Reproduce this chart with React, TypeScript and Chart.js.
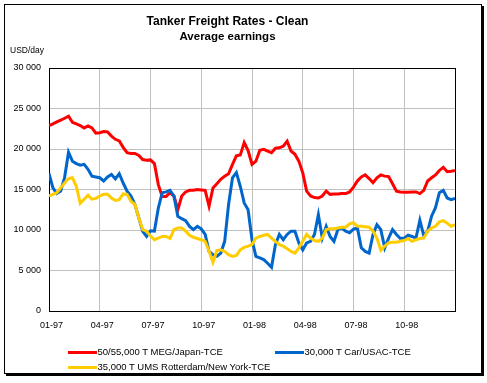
import React, { useEffect, useRef } from 'react';
import { Chart, registerables } from 'chart.js';

Chart.register(...registerables);

const FONT = 'Arial, "Liberation Sans", Helvetica, sans-serif';

const titleText = 'Tanker Freight Rates - Clean';
const subtitleText = 'Average earnings';
const unitLabel = 'USD/day';

const seriesNames = [
  '50/55,000 T MEG/Japan-TCE',
  '30,000 T Car/USAC-TCE',
  '35,000 T UMS Rotterdam/New York-TCE',
];
const seriesColors = ['#FF0000', '#0066CC', '#FFCC00'];

// x tick labels, one every 13 weeks
const xTickLabels = ['01-97', '04-97', '07-97', '10-97', '01-98', '04-98', '07-98', '10-98', ''];
const yTickLabels = ['0', '5 000', '10 000', '15 000', '20 000', '25 000', '30 000'];

// weekly values, week 0 = first week of Jan 1997
const megJapan = [
  22900, 23100, 23350, 23550, 23800, 24050, 23300, 23100, 22900, 22600,
  22850, 22600, 21950, 22000, 22150, 22100, 21600, 21200, 21000, 20200,
  19550, 19450, 19450, 19200, 18700, 18600, 18650, 18200, 15600, 14150,
  14150, 14600, 14200, 12500, 14200, 14700, 14900, 14900, 15000, 14950,
  14900, 12950, 15200, 15700, 16250, 16650, 16950, 18100, 19150, 19250,
  20800, 19800, 18100, 18500, 19850, 19950, 19750, 19550, 20100, 20150,
  20350, 20950, 19750, 19350, 18500, 17050, 14800, 14200, 14000, 13950,
  14200, 14800, 14400, 14450, 14450, 14500, 14500, 14700, 15300, 16050,
  16550, 16800, 16350, 15850, 16450, 16800, 16650, 16600, 15700, 14800,
  14700, 14650, 14650, 14700, 14700, 14500, 14900, 16050, 16450, 16800,
  17350, 17750, 17200, 17250, 17350,
];

const carUsac = [
  17000, 15200, 14500, 14800, 16500, 19600, 18500, 18200, 18000, 18100,
  17500, 16650, 16550, 16450, 16050, 16550, 16850, 16300, 16950, 15800,
  14800, 14200, 13150, 11500, 9850, 9200, 9900, 9850, 12700, 14600,
  14700, 14900, 14200, 11700, 11400, 11150, 10450, 10050, 10450, 10150,
  9450, 7350, 6950, 6750, 7150, 8600, 13150, 16450, 17100, 15400,
  13350, 12500, 8800, 6750, 6550, 6350, 5900, 5400, 8200, 9450,
  8800, 9450, 9850, 9850, 8400, 7550, 8400, 8600, 9450, 11900,
  9000, 10450, 9200, 8600, 10050, 10250, 9850, 9650, 10100, 10250,
  7800, 7350, 7150, 9450, 10650, 10050, 7800, 9000, 10050, 9450,
  8950, 9000, 9350, 9200, 9000, 11200, 9300, 9850, 11700, 12750,
  14600, 14900, 13950, 13750, 13900,
];

const rotterdamNy = [
  14200, 14400, 14600, 15200, 15800, 16350, 16450, 15400, 13300, 13800,
  14300, 13800, 13900, 14200, 14400, 14400, 13950, 13650, 13750, 14450,
  14400, 13550, 13150, 11500, 10050, 9850, 9250, 8800, 9000, 9200,
  9200, 8950, 10050, 10250, 10250, 9850, 9350, 9100, 8950, 8800,
  8600, 7400, 6000, 7450, 7550, 7350, 6950, 6750, 6850, 7550,
  7850, 8000, 8200, 9000, 9200, 9350, 9450, 9000, 8600, 8200,
  8000, 7700, 7350, 7150, 7800, 8600, 9450, 9000, 8700, 8600,
  9000, 10050, 10150, 10150, 10250, 10350, 10350, 10750, 10900, 10450,
  10450, 10400, 10350, 9850, 9000, 7500, 8000, 8400, 8500, 8500,
  8600, 8700, 8950, 8600, 8800, 8950, 9000, 9850, 10250, 10450,
  11000, 11150, 10850, 10450, 10650,
];

const seriesValues = [megJapan, carUsac, rotterdamNy];

export default function App() {
  const ref = useRef<HTMLCanvasElement>(null);

  useEffect(() => {
    if (!ref.current) return;
    const datasets = seriesValues.map((vals, si) => ({
      label: seriesNames[si],
      data: vals.map((v, i) => ({ x: i, y: v })),
      borderColor: seriesColors[si],
      backgroundColor: seriesColors[si],
      borderWidth: 3,
      pointRadius: 0,
      tension: 0,
      fill: false,
      order: 3 - si,
    }));
    const chart = new Chart(ref.current, {
      type: 'line',
      data: { datasets },
      options: {
        responsive: false,
        animation: false,
        devicePixelRatio: 1,
        layout: { padding: { left: 0, right: 32, top: 0, bottom: 42 } },
        plugins: {
          legend: { display: false },
          tooltip: { enabled: false },
          title: {
            display: true,
            text: titleText,
            color: '#000',
            font: { family: FONT, size: 12, weight: 'bold', lineHeight: 1.2 },
            padding: { top: 14, bottom: 0 },
          },
          subtitle: {
            display: true,
            text: subtitleText,
            color: '#000',
            font: { family: FONT, size: 11.5, weight: 'bold', lineHeight: 1.2 },
            padding: { top: 2, bottom: 23.8 },
          },
        },
        scales: {
          x: {
            type: 'linear',
            min: 0,
            max: 104,
            afterFit: (s: any) => {
              s.height = 30;
            },
            ticks: {
              stepSize: 13,
              autoSkip: false,
              maxRotation: 0,
              padding: 9,
              labelOffset: 2.5,
              color: '#000',
              font: { family: FONT, size: 9 },
              callback: (v: any) => xTickLabels[Math.round(Number(v) / 13)] ?? '',
            },
            grid: {
              drawTicks: false,
              lineWidth: 1,
              color: (ctx: any) => (ctx.tick && ctx.tick.value === 104 ? '#000' : '#C0C0C0'),
            },
            border: { display: true, color: '#000', width: 1 },
          },
          y: {
            min: 0,
            max: 30000,
            afterFit: (s: any) => {
              s.width = 49;
            },
            ticks: {
              stepSize: 5000,
              padding: 8,
              color: '#000',
              font: { family: FONT, size: 9 },
              callback: (v: any) => yTickLabels[Math.round(Number(v) / 5000)] ?? '',
            },
            grid: {
              drawTicks: false,
              lineWidth: 1,
              color: (ctx: any) => (ctx.tick && ctx.tick.value === 30000 ? '#000' : '#C0C0C0'),
            },
            border: { display: true, color: '#000', width: 1 },
          },
        },
      },
    });
    return () => chart.destroy();
  }, []);

  const legendText: React.CSSProperties = {
    fontFamily: FONT,
    fontSize: 9.5,
    lineHeight: '10px',
    color: '#000',
    whiteSpace: 'nowrap',
  };
  const item = (si: number, left: number, top: number) => (
    <div
      key={si}
      style={{ position: 'absolute', left, top, height: 10, display: 'flex', alignItems: 'center' }}
    >
      <div style={{ width: 29, height: 3, background: seriesColors[si] }} />
      <div style={{ ...legendText, marginLeft: 0.5 }}>{seriesNames[si]}</div>
    </div>
  );

  return (
    <div
      style={{
        position: 'fixed',
        left: 0,
        top: 0,
        width: 487,
        height: 383,
        background: '#fff',
        overflow: 'hidden',
      }}
    >
      <div
        style={{
          position: 'absolute',
          left: 4,
          top: 4,
          width: 478,
          height: 370,
          boxSizing: 'border-box',
          border: '1px solid #000',
          boxShadow: '2px 2px 0 0 #000',
          background: '#fff',
        }}
      />
      <canvas
        ref={ref}
        width={487}
        height={383}
        style={{ position: 'absolute', left: 0, top: 0, width: 487, height: 383 }}
      />
      <div
        style={{
          position: 'absolute',
          left: 10,
          top: 45,
          fontFamily: FONT,
          fontSize: 8.5,
          lineHeight: '10px',
          color: '#000',
        }}
      >
        {unitLabel}
      </div>
      {item(0, 68, 347)}
      {item(1, 275, 347)}
      {item(2, 68, 362)}
    </div>
  );
}
